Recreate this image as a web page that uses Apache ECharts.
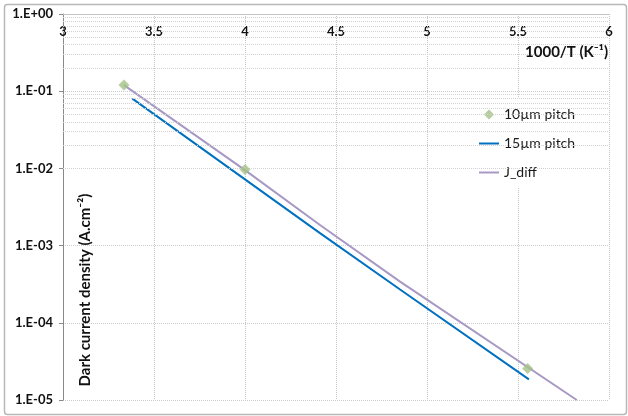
<!DOCTYPE html>
<html>
<head>
<meta charset="utf-8">
<script src="https://cdn.jsdelivr.net/npm/echarts@6/dist/echarts.min.js"></script>
<style>
  html, body { margin: 0; padding: 0; background: #fff; }
  #chart { width: 628px; height: 416px; }
</style>
</head>
<body>
<div id="chart"></div>
<script>
// values
const pitch10X = [3.335, 4.0, 5.553];
const pitch10Y = [0.12, 0.0097, 2.55e-5];
const pitch15X = [3.381, 4.412, 4.852, 5.56];
const pitch15Y = [0.08, 0.00145, 2.7e-4, 1.85e-5];
const jdiffX = [3.335, 4.0, 4.412, 4.852, 5.823];
const jdiffY = [0.12, 0.0095, 0.00185, 3.41e-4, 1.0e-5];
const yTickLabels = ['1.E-05', '1.E-04', '1.E-03', '1.E-02', '1.E-01', '1.E+00'];
const seriesNames = ['10µm pitch', '15µm pitch', 'J_diff'];

const FONT = 'Lato, "Open Sans", sans-serif';

// dotted minor grid for the log axis (2..9 of each decade)
let minorLines = [];
for (let e = -5; e < 0; e++) {
  for (let m = 2; m <= 9; m++) minorLines.push({ yAxis: m * Math.pow(10, e) });
}

function pairs(xs, ys) {
  return xs.map((x, i) => [x, ys[i]]);
}

let myChart = echarts.init(document.getElementById('chart'));
// 绘制图表
myChart.setOption({
  animation: false,
  backgroundColor: '#fff',
  textStyle: { fontFamily: FONT },
  grid: { left: 63, right: 19, top: 14, bottom: 16 },
  xAxis: {
    type: 'value',
    position: 'top',
    min: 3,
    max: 6,
    interval: 0.5,
    axisLine: { show: true, lineStyle: { color: '#c4c4c4', width: 1 } },
    axisTick: { show: false },
    axisLabel: {
      inside: true,
      margin: 11,
      color: '#111',
      fontWeight: 'bold',
      fontSize: 13,
      fontFamily: FONT
    },
    splitLine: { show: true, lineStyle: { type: 'dotted', color: '#c4c4c4', width: 1 } }
  },
  yAxis: {
    type: 'log',
    logBase: 10,
    min: 1e-5,
    max: 1,
    axisLine: { show: true, lineStyle: { color: '#8a8a8a', width: 1 } },
    axisTick: { show: true, length: 4, lineStyle: { color: '#8a8a8a' } },
    axisLabel: {
      margin: 10,
      color: '#111',
      fontWeight: 'bold',
      fontSize: 13,
      fontFamily: FONT,
      formatter: (v) => yTickLabels[Math.round(Math.log10(v)) + 5]
    },
    splitLine: { show: true, lineStyle: { type: 'dotted', color: '#cccccc', width: 1 } }
  },
  legend: {
    data: [
      { name: seriesNames[0], icon: 'path://M5,0 L10,5 L5,10 L0,5 Z' },
      { name: seriesNames[1], icon: 'path://M0,0 H20 V2 H0 Z' },
      { name: seriesNames[2], icon: 'path://M0,0 H20 V2 H0 Z' }
    ],
    orient: 'vertical',
    left: 457,
    top: 98,
    padding: [8, 23, 7, 22],
    itemGap: 12,
    itemWidth: 20,
    itemHeight: 10,
    backgroundColor: '#fff',
    textStyle: { fontSize: 14, color: '#1a1a1a', fontFamily: FONT, lineHeight: 17 }
  },
  graphic: [
    {
      type: 'rect',
      left: 2,
      top: 2,
      shape: { width: 622, height: 410, r: 3 },
      style: { fill: 'none', stroke: '#b8b8b8', lineWidth: 1.5 },
      silent: true,
      z: 10
    },
    {
      type: 'text',
      right: 20,
      top: 45,
      style: {
        text: '1000/T (K⁻¹)',
        font: 'bold 15px ' + FONT,
        fill: '#111'
      },
      z: 10
    },
    {
      type: 'text',
      x: 85,
      y: 290,
      rotation: Math.PI / 2,
      style: {
        text: 'Dark current density (A.cm⁻²)',
        font: 'bold 15px ' + FONT,
        fill: '#111',
        align: 'center',
        verticalAlign: 'middle'
      },
      z: 10
    }
  ],
  series: [
    {
      name: 'grid-minor',
      type: 'line',
      data: [],
      z: 0,
      silent: true,
      markLine: {
        silent: true,
        symbol: 'none',
        label: { show: false },
        animation: false,
        lineStyle: { type: 'dotted', color: '#d2d2d2', width: 1 },
        data: minorLines
      }
    },
    {
      name: seriesNames[0],
      type: 'scatter',
      symbol: 'diamond',
      symbolSize: 11,
      itemStyle: { color: '#a4c184' },
      data: pairs(pitch10X, pitch10Y),
      z: 5
    },
    {
      name: seriesNames[1],
      type: 'line',
      symbol: 'none',
      lineStyle: { color: '#0070c0', width: 2 },
      itemStyle: { color: '#0070c0' },
      data: pairs(pitch15X, pitch15Y),
      z: 3
    },
    {
      name: seriesNames[2],
      type: 'line',
      symbol: 'none',
      lineStyle: { color: '#a799c4', width: 2 },
      itemStyle: { color: '#a799c4' },
      data: pairs(jdiffX, jdiffY),
      z: 4
    }
  ]
});
window.addEventListener('resize', () => myChart && myChart.resize());
</script>
</body>
</html>
